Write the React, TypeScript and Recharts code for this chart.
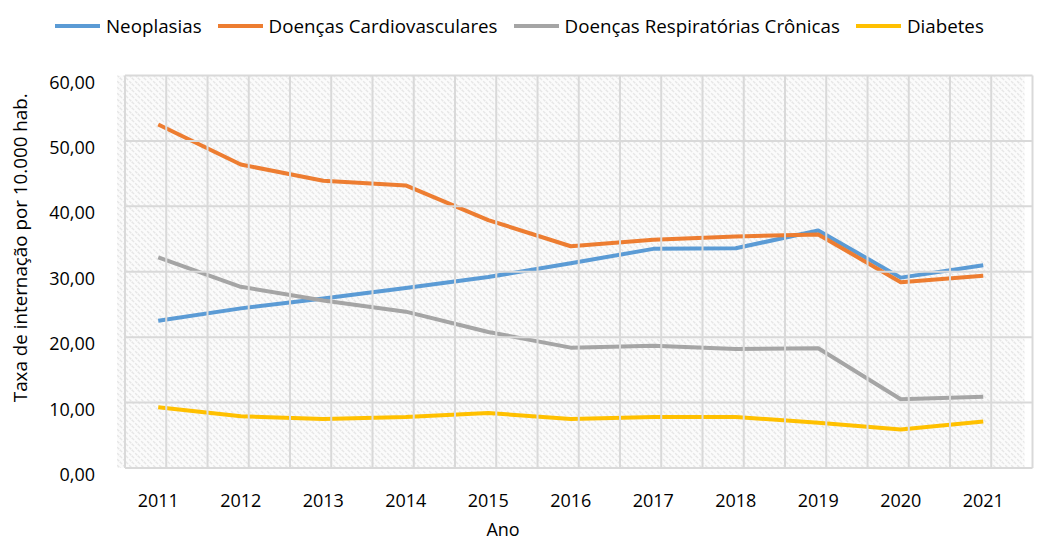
import { LineChart, Line, XAxis, YAxis, CartesianGrid } from 'recharts';

const years = ['2011', '2012', '2013', '2014', '2015', '2016', '2017', '2018', '2019', '2020', '2021'];
const neoplasias = [22.5, 24.4, 25.9, 27.5, 29.2, 31.3, 33.5, 33.6, 36.3, 29.1, 31.0];
const cardiovasculares = [52.5, 46.4, 43.9, 43.2, 37.9, 33.9, 34.9, 35.4, 35.7, 28.4, 29.4];
const respiratorias = [32.2, 27.7, 25.6, 23.9, 20.8, 18.4, 18.7, 18.2, 18.3, 10.5, 10.9];
const diabetes = [9.3, 7.9, 7.5, 7.8, 8.4, 7.5, 7.8, 7.8, 6.9, 5.9, 7.1];
const yTicks = [0, 10, 20, 30, 40, 50, 60];

const series = [
    { key: 'neoplasias', name: 'Neoplasias', color: '#5B9BD5' },
    { key: 'cardiovasculares', name: 'Doenças Cardiovasculares', color: '#ED7D31' },
    { key: 'respiratorias', name: 'Doenças Respiratórias Crônicas', color: '#A5A5A5' },
    { key: 'diabetes', name: 'Diabetes', color: '#FFC000' },
];

const data = years.map((year, i) => ({
    year,
    neoplasias: neoplasias[i],
    cardiovasculares: cardiovasculares[i],
    respiratorias: respiratorias[i],
    diabetes: diabetes[i],
}));

const FONT = '"Open Sans", sans-serif';
const fmt = (v: number) => v.toFixed(2).replace('.', ',');

const YTick = ({ x, y, payload }: any) => (
    <text x={x} y={y + 6} textAnchor="end" dominantBaseline="central" fontSize={18} fontFamily={FONT} fill="#000">
        {fmt(payload.value)}
    </text>
);

const XTick = ({ x, y, payload }: any) => (
    <text x={x} y={y + 32} textAnchor="middle" dominantBaseline="central" fontSize={18} fontFamily={FONT} fill="#000">
        {payload.value}
    </text>
);

const YLabel = ({ viewBox }: any) => {
    const cx = viewBox.x + 20;
    const cy = viewBox.y + viewBox.height / 2 - 24;
    return (
        <text
            x={cx}
            y={cy}
            transform={`rotate(-90 ${cx} ${cy})`}
            textAnchor="middle"
            dominantBaseline="central"
            fontSize={18.8}
            fontFamily={FONT}
            fill="#000"
        >
            Taxa de internação por 10.000 hab.
        </text>
    );
};

const XLabel = ({ viewBox }: any) => (
    <text x={viewBox.x + 386} y={536} textAnchor="middle" fontSize={18} fontFamily={FONT} fill="#000">
        Ano
    </text>
);

// grid in the source is shifted ~8px right of the plot and drawn over the lines
const gridLine = (props: any) => (
    <line
        key={props.key}
        x1={props.x1 + 8}
        x2={props.x2 + 8}
        y1={props.y1}
        y2={props.y2}
        stroke="#d9d9d9"
        strokeWidth={2}
    />
);

export default function App() {
    return (
        <div style={{ position: 'absolute', left: 0, top: 0, width: 1062, height: 540, background: '#fff' }}>
            <div
                style={{
                    position: 'absolute',
                    left: 55,
                    top: 13,
                    display: 'flex',
                    alignItems: 'center',
                    fontFamily: FONT,
                    fontSize: 18.75,
                    color: '#000',
                    whiteSpace: 'nowrap',
                }}
            >
                {series.map((s) => (
                    <div key={s.key} style={{ display: 'flex', alignItems: 'center', marginRight: 16 }}>
                        <span style={{ display: 'inline-block', width: 45, height: 4, background: s.color, marginRight: 6 }} />
                        <span>{s.name}</span>
                    </div>
                ))}
            </div>
            <LineChart width={1062} height={540} data={data} margin={{ top: 75.5, right: 37.5, left: 0, bottom: 0 }}>
                <defs>
                    <pattern id="hatch" patternUnits="userSpaceOnUse" width="6" height="6">
                        <rect width="6" height="6" fill="#fbfbfb" />
                        <path
                            d="M-1,5 L1,7 M0,0 L6,6 M5,-1 L7,1"
                            stroke="#e6e6e6"
                            strokeWidth={1.4}
                            strokeDasharray="3 1.5"
                        />
                    </pattern>
                </defs>
                <CartesianGrid horizontal={false} vertical={false} fill="url(#hatch)" />
                <XAxis
                    dataKey="year"
                    axisLine={false}
                    tickLine={false}
                    tickSize={0}
                    tickMargin={0}
                    height={72}
                    padding={{ left: 41.25, right: 41.25 }}
                    tick={<XTick />}
                    interval={0}
                    label={<XLabel />}
                />
                <YAxis
                    domain={[0, 60]}
                    ticks={yTicks}
                    axisLine={false}
                    tickLine={false}
                    tickSize={0}
                    tickMargin={22}
                    width={117}
                    tick={<YTick />}
                    label={<YLabel />}
                />
                {series.map((s) => (
                    <Line
                        key={s.key}
                        type="linear"
                        dataKey={s.key}
                        name={s.name}
                        stroke={s.color}
                        strokeWidth={4}
                        strokeLinejoin="round"
                        dot={false}
                        activeDot={false}
                        isAnimationActive={false}
                    />
                ))}
                <CartesianGrid
                    zIndex={1000}
                    fill="none"
                    horizontal={gridLine}
                    verticalCoordinatesGenerator={({ offset }: any) =>
                        Array.from({ length: 23 }, (_, k) => offset.left + 8 + (k * offset.width) / 22)
                    }
                    vertical={(props: any) => (
                        <line key={props.key} x1={props.x1} x2={props.x2} y1={props.y1} y2={props.y2} stroke="#d9d9d9" strokeWidth={2} />
                    )}
                />
            </LineChart>
        </div>
    );
}
